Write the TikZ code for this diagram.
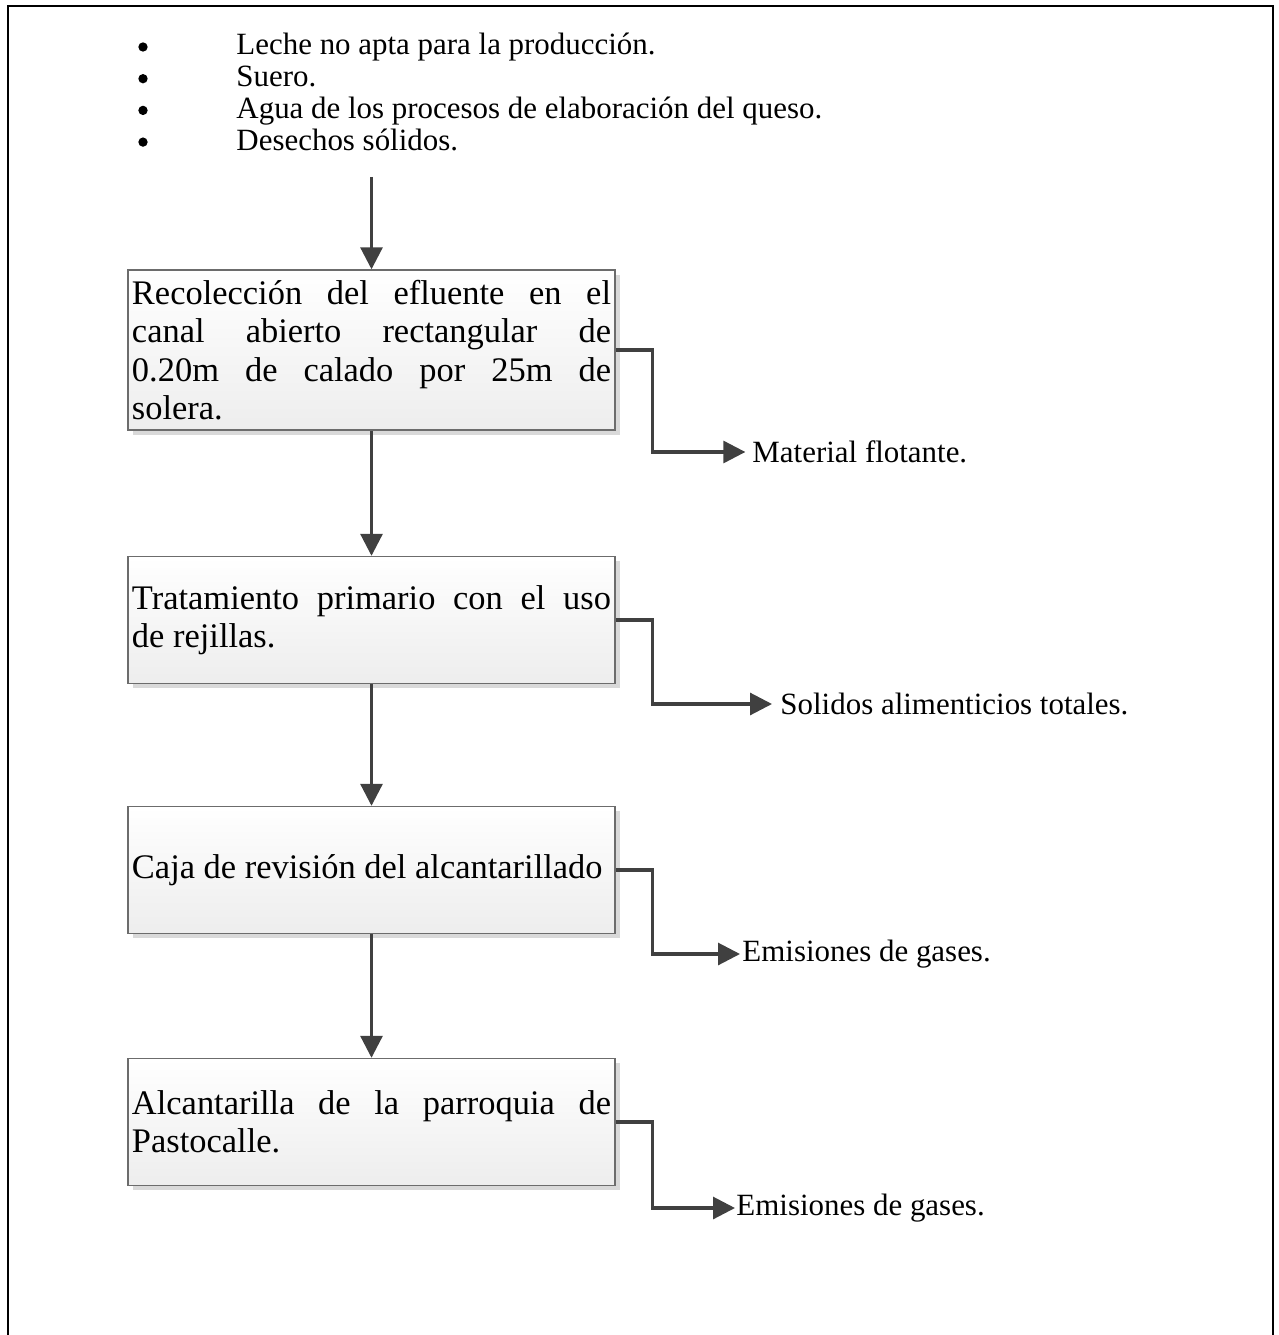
\documentclass[tikz,border=0pt]{standalone}
\usepackage{fontspec}
\setmainfont{Liberation Serif}
\usetikzlibrary{arrows.meta}
\usetikzlibrary{shadows}
\usetikzlibrary{positioning}
\definecolor{mgris}{HTML}{404040}
\hyphenpenalty=10000
\exhyphenpenalty=10000

\tikzset{
  caja/.style={draw=gray!85!black, line width=0.6pt, top color=white, bottom color=gray!14,
    text width=7.185cm, inner xsep=0.06cm, inner ysep=0.07cm, minimum height=1.905cm, align=justify,
    font=\fontsize{14.7}{16.4}\selectfont,
    drop shadow={shadow xshift=0.07cm, shadow yshift=-0.07cm, fill=gray!30, opacity=1}},
  flecha/.style={draw=mgris, line width=1.3pt, -{Triangle[length=0.33cm, width=0.33cm]}},
  etiq/.style={anchor=west, inner sep=0pt, font=\fontsize{13.2}{15}\selectfont},
  punto/.style={circle, fill=black, inner sep=0pt, minimum size=0.14cm},
}

\begin{document}
\begin{tikzpicture}[x=0.015cm, y=-0.015cm]
  \useasboundingbox (0, 0) rectangle (1278, 1335);
  \draw [line width=0.9pt] (8, 1340) -- (8, 6) -- (1273, 6) -- (1273, 1340);

  % entradas
  \foreach \t [count=\i] in {Leche no apta para la producción., Suero., Agua de los procesos de elaboración del queso., Desechos sólidos.} {
    \node [punto] (punto\i) at (143, {47 + 31.7*(\i-1)}) {};
    \node [etiq, anchor=base west] (entrada\i) at (236, {55 + 31.7*(\i-1)}) {\t};
  }
  \coordinate (ini) at (371.5, 177);

  % etapas
  \node [caja, minimum height=2.4cm] (recol) at (371.5, 350) {Recolección del efluente en el\linebreak canal abierto rectangular de\linebreak 0.20m de calado por 25m de\linebreak solera.};
  \node [caja] (trat) at (371.5, 620) {Tratamiento primario con el uso\linebreak de rejillas.};
  \node [caja] (revis) at (371.5, 870) {Caja de revisión del alcantarillado};
  \node [caja] (alcan) at (371.5, 1122) {Alcantarilla de la parroquia de\linebreak Pastocalle.};

  % salidas
  \node [etiq] (flot) at (752, 452) {Material flotante.};
  \node [etiq] (solid) at (780, 704) {Solidos alimenticios totales.};
  \node [etiq] (gas1) at (742, 954) {Emisiones de gases.};
  \node [etiq] (gas2) at (736, 1208) {Emisiones de gases.};

  \draw [flecha] (ini) -- (recol);
  \draw [flecha] (recol) -- (trat);
  \draw [flecha] (trat) -- (revis);
  \draw [flecha] (revis) -- (alcan);

  \draw [flecha] (recol.east) -- ++(37, 0) |- ([xshift=-0.1cm]flot.west);
  \draw [flecha] (trat.east) -- ++(37, 0) |- ([xshift=-0.12cm]solid.west);
  \draw [flecha] (revis.east) -- ++(37, 0) |- ([xshift=-0.03cm]gas1.west);
  \draw [flecha] (alcan.east) -- ++(37, 0) |- ([xshift=-0.015cm]gas2.west);
\end{tikzpicture}
\end{document}
